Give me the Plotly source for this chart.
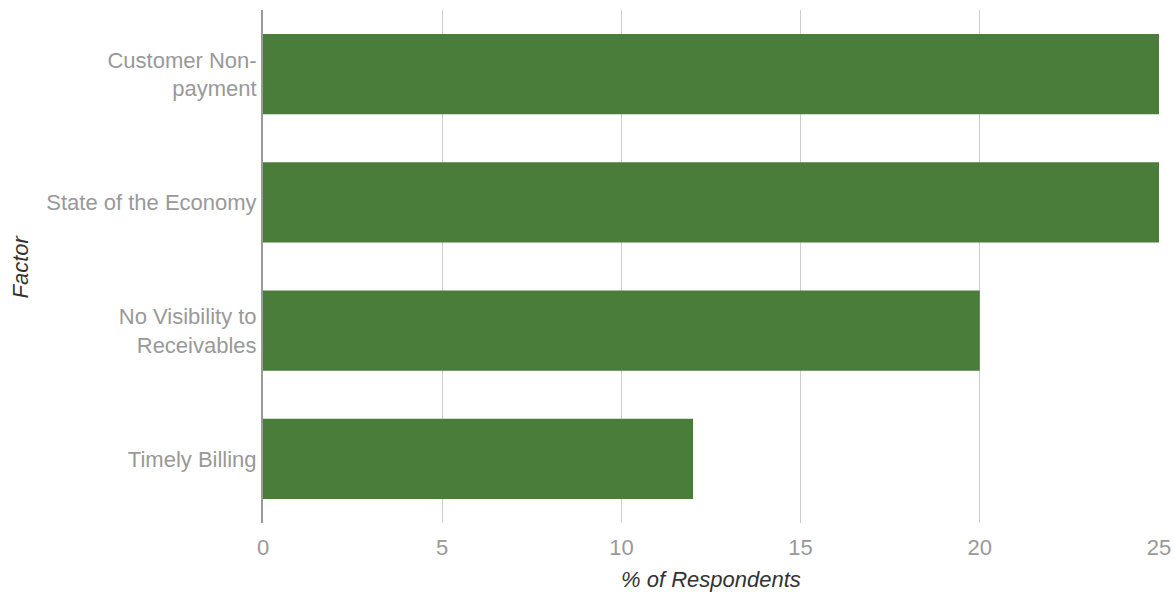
import plotly.graph_objects as go

# Share of respondents naming each factor
factors = [
    "Customer Non-<br>payment",
    "State of the Economy",
    "No Visibility to<br>Receivables",
    "Timely Billing",
]
percent = [25, 25, 20, 12]
x_ticks = [0, 5, 10, 15, 20, 25]

bar_color = "#4a7c3a"
label_gray = "#999999"
title_gray = "#333333"
font_family = "Arial, Liberation Sans, sans-serif"
font_size = 22

fig = go.Figure(
    go.Bar(
        x=percent,
        y=factors,
        orientation="h",
        marker=dict(color=bar_color, line=dict(width=0)),
        hoverinfo="x+y",
    )
)

fig.update_layout(
    width=1175,
    height=592,
    margin=dict(l=263, r=16, t=10, b=69),
    paper_bgcolor="white",
    plot_bgcolor="white",
    bargap=0.376,
    showlegend=False,
    font=dict(family=font_family, size=font_size, color=label_gray),
    xaxis=dict(
        range=[0, 25],
        tickvals=x_ticks,
        showgrid=True,
        gridcolor="#cccccc",
        gridwidth=1,
        zeroline=False,
        showline=False,
        ticks="",
        ticklabelstandoff=9,
        tickfont=dict(size=font_size, color=label_gray),
        automargin=False,
        fixedrange=True,
    ),
    yaxis=dict(
        categoryorder="array",
        categoryarray=factors[::-1],
        range=[-0.5, 3.5],
        showgrid=False,
        zeroline=False,
        showline=True,
        linecolor="#999999",
        linewidth=2,
        ticks="",
        ticklabelstandoff=0,
        tickfont=dict(size=font_size, color=label_gray),
        automargin=False,
        fixedrange=True,
    ),
    annotations=[
        dict(
            text="% of Respondents",
            xref="paper", yref="paper",
            x=0.5, y=0, yshift=-56,
            showarrow=False,
            xanchor="center", yanchor="middle",
            font=dict(family=font_family, size=font_size, color=title_gray, style="italic"),
        ),
        dict(
            text="Factor",
            xref="paper", yref="paper",
            x=0, xshift=-243, y=0.5,
            textangle=-90,
            showarrow=False,
            xanchor="center", yanchor="middle",
            font=dict(family=font_family, size=font_size, color=title_gray, style="italic"),
        ),
    ],
)

fig.write_html("out.html")
